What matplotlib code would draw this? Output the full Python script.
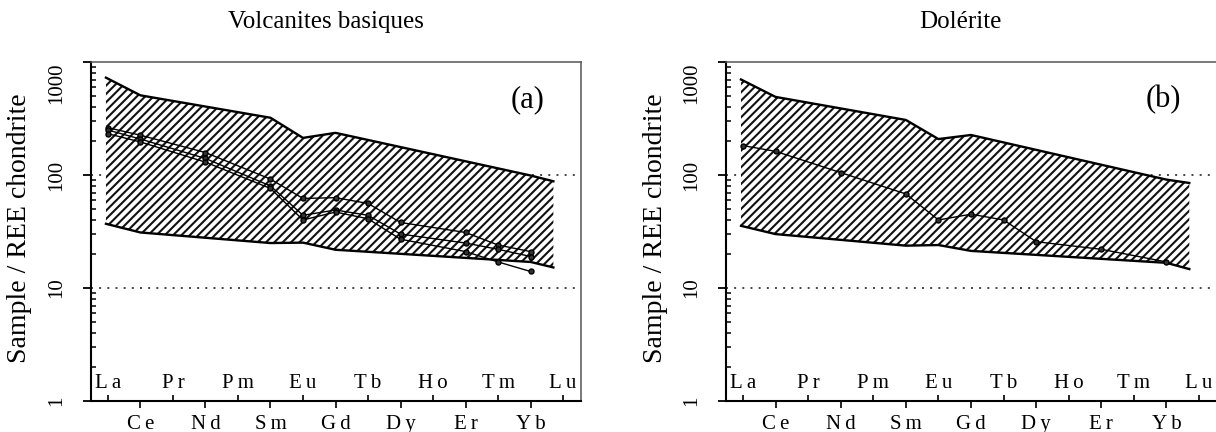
import numpy as np
import matplotlib
matplotlib.use("Agg")
import matplotlib.pyplot as plt
from matplotlib.ticker import FixedLocator, LogLocator, NullFormatter, FixedFormatter

plt.rcParams['font.family'] = ['Liberation Serif', 'DejaVu Serif']
plt.rcParams['hatch.linewidth'] = 1.5

# ---------------- data ----------------
elements = ["La", "Ce", "Pr", "Nd", "Pm", "Sm", "Eu", "Gd", "Tb", "Dy",
            "Ho", "Er", "Tm", "Yb", "Lu"]

# envelope field (reference field), positions in element-index units
field_x = [-0.06, 1, 5, 6, 7, 13, 13.7]
field_upper_a = [727, 507, 321, 213, 236, 99, 88]
field_lower_a = [37, 31, 25, 25.2, 21.8, 17.0, 15.2]
field_upper_b = [700, 491, 307, 208, 226, 91, 85]
field_lower_b = [35.5, 30, 23.7, 24, 21.3, 16.7, 14.7]

# samples (panel a): La Ce Nd Sm Eu Gd Tb Dy Er Tm Yb
sample_el_a = ["La", "Ce", "Nd", "Sm", "Eu", "Gd", "Tb", "Dy", "Er", "Tm", "Yb"]
sample_a1 = [262, 225, 158, 92, 62, 63, 56, 38, 31, 24, 21]
sample_a2 = [250, 208, 140, 80, 44, 49, 44, 30, 25, 22, 19]
sample_a3 = [232, 196, 130, 76, 40, 47, 41, 27, 21, 17, 14]

# sample (panel b)
sample_el_b = ["La", "Ce", "Nd", "Sm", "Eu", "Gd", "Tb", "Dy", "Er", "Yb"]
sample_b1 = [182, 162, 105, 68, 40, 45, 40, 25.7, 22, 17]

titles = ["Volcanites basiques", "Dolérite"]
panel_tags = ["(a)", "(b)"]
ytick_vals = [1, 10, 100, 1000]
ytick_labels = ["1", "10", "100", "1000"]
ylabel_text = "Sample / REE chondrite"

# ---------------- figure ----------------
W, H = 1216, 432
fig = plt.figure(figsize=(W / 100, H / 100), dpi=100)


def px_axes(x0, x1, ytop, ybot):
    return fig.add_axes([x0 / W, 1 - ybot / H, (x1 - x0) / W, (ybot - ytop) / H])


def spaced(s):
    return "\u2009".join(s)


ax_a = px_axes(91, 581, 62, 401)
ax_b = px_axes(726, 1217, 62, 401)

idx = {e: i for i, e in enumerate(elements)}

panels = [
    (ax_a, field_upper_a, field_lower_a,
     [sample_a1, sample_a2, sample_a3], sample_el_a),
    (ax_b, field_upper_b, field_lower_b, [sample_b1], sample_el_b),
]

for k, (ax, up, lo, samples, sel) in enumerate(panels):
    ax.set_yscale('log')
    ax.set_ylim(1, 1000)
    ax.set_xlim(-0.52, 14.55)

    # dotted reference lines
    for yv in [10, 100]:
        ax.axhline(yv, color='#444444', linestyle=(0, (1, 3.2)), lw=1.4, zorder=1)

    # field
    ax.fill_between(field_x, lo, up, facecolor='white', edgecolor='#111111',
                    hatch='////', linewidth=0, zorder=2)
    ax.plot(field_x, up, color='black', lw=1.7, zorder=3)
    ax.plot(field_x, lo, color='black', lw=1.7, zorder=3)

    # samples
    xs = [idx[e] for e in sel]
    for s in samples:
        ax.plot(xs, s, color='black', lw=1.0, marker='o', ms=3.6,
                mfc='#333333', mec='black', zorder=4)

    # spines
    for side in ['left', 'bottom']:
        ax.spines[side].set_linewidth(1.5)
        ax.spines[side].set_color('black')
    for side in ['top', 'right']:
        ax.spines[side].set_linewidth(1.1)
        ax.spines[side].set_color('#555555')

    # y ticks
    ax.yaxis.set_major_locator(FixedLocator(ytick_vals))
    ax.set_yticklabels(ytick_labels, rotation=90, va='center', fontsize=15)
    ax.yaxis.set_minor_locator(LogLocator(base=10, subs=np.arange(2, 10)))
    ax.yaxis.set_minor_formatter(NullFormatter())
    ax.tick_params(axis='y', which='major', direction='out', length=5.8,
                   width=1.3, pad=12)
    ax.tick_params(axis='y', which='minor', direction='in', length=3.6,
                   width=1.1)
    lbls = ax.get_yticklabels()
    lbls[-1].set_va('top')

    # x ticks: odd -> below outside, even -> inside labels
    odd = [i for i in range(len(elements)) if i % 2 == 1]
    even = [i for i in range(len(elements)) if i % 2 == 0]
    ax.xaxis.set_major_locator(FixedLocator(odd))
    ax.set_xticklabels([spaced(elements[i]) for i in odd], fontsize=15)
    ax.xaxis.set_minor_locator(FixedLocator(even))
    ax.xaxis.set_minor_formatter(FixedFormatter([spaced(elements[i]) for i in even]))
    ax.tick_params(axis='x', which='major', direction='out', length=5,
                   width=1.2, pad=5)
    ax.tick_params(axis='x', which='minor', direction='in', length=4.5,
                   width=1.2, pad=-19.5, labelsize=15)

    # panel tag
    ax.text(0.89, 0.89, panel_tags[k], transform=ax.transAxes,
            ha='center', va='center', fontsize=22)

# y labels
fig.text(20 / W, 1 - 228 / H, ylabel_text, rotation=90, ha='center',
         va='center', fontsize=20)
fig.text(655 / W, 1 - 228 / H, ylabel_text, rotation=90, ha='center',
         va='center', fontsize=20)

fig.text(326 / W, 1 - 22 / H, titles[0], ha='center', va='center', fontsize=18)
fig.text(960 / W, 1 - 22 / H, titles[1], ha='center', va='center', fontsize=18)

fig.savefig("out.png", dpi=100)
